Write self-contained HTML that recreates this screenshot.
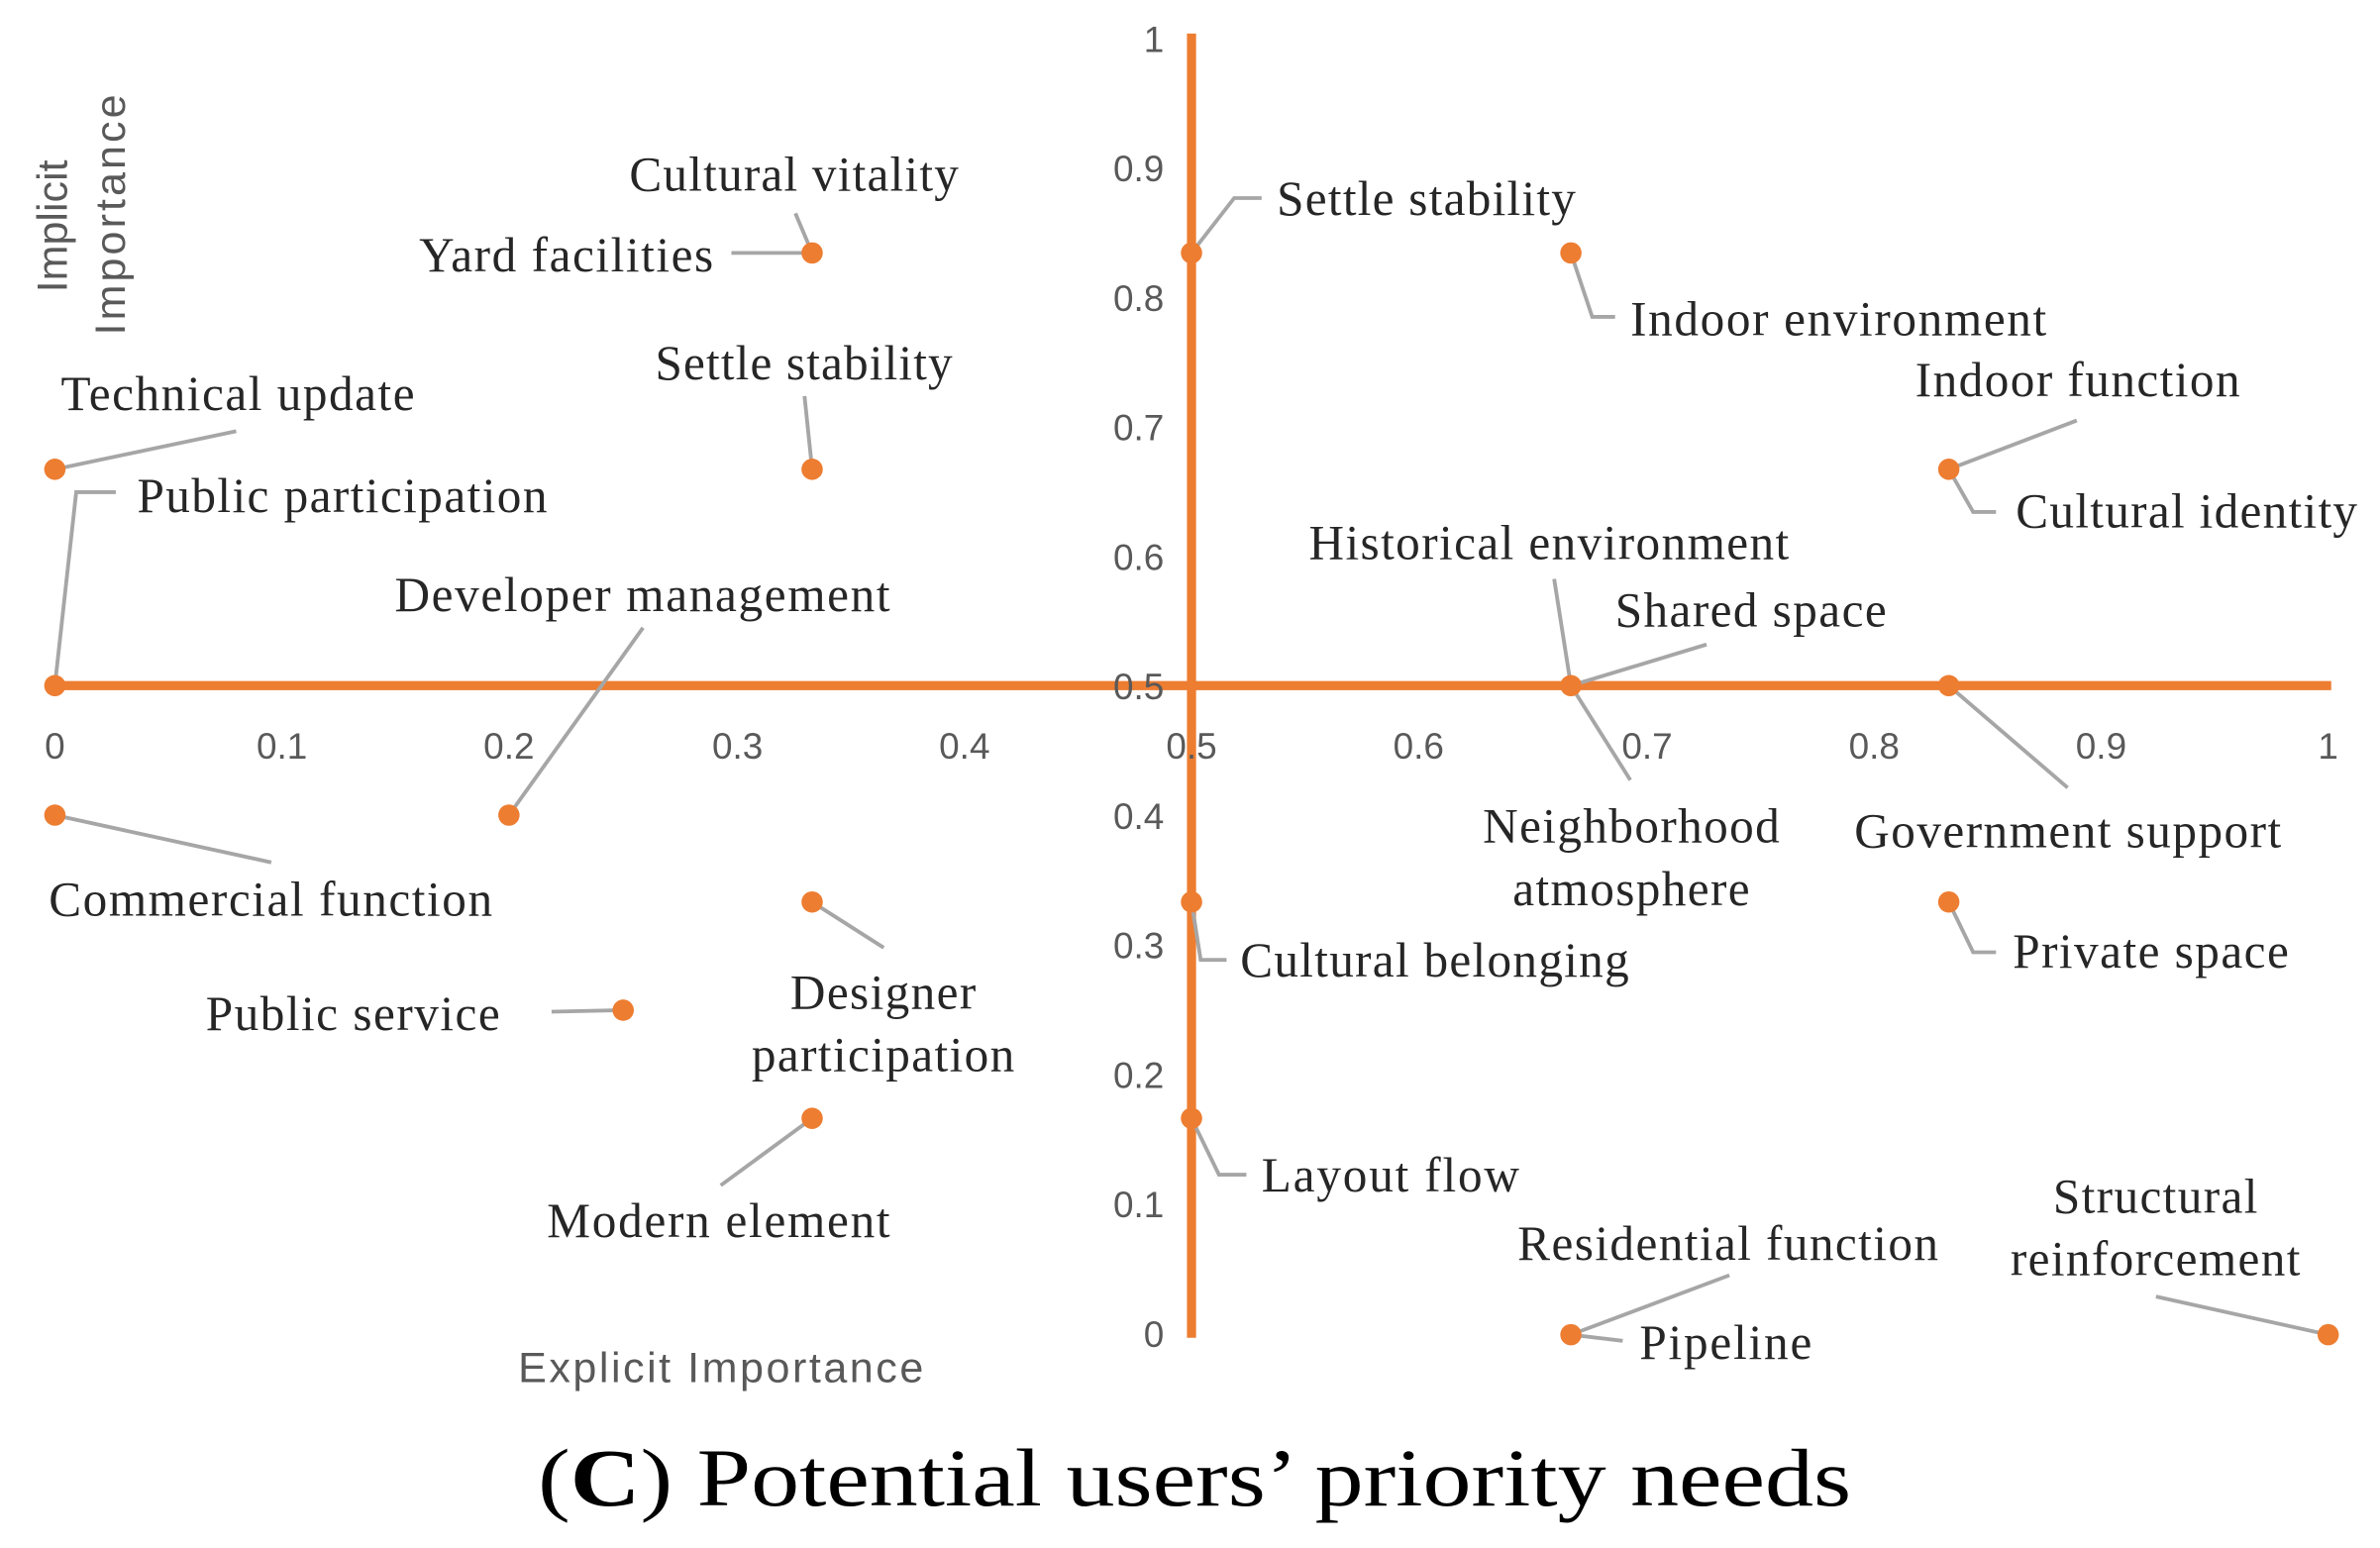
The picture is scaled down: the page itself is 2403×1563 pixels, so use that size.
<!DOCTYPE html>
<html><head><meta charset="utf-8"><style>
html,body{margin:0;padding:0;background:#fff;}
svg{display:block;}
.l{font-family:"Liberation Serif",serif;font-size:32px;letter-spacing:0.9px;fill:#262626;}
.t{font-family:"Liberation Sans",sans-serif;font-size:24px;fill:#595959;}
.g{stroke:#A6A6A6;stroke-width:2.5;fill:none;}
.p{fill:#ED7D31;}
</style></head><body>
<svg width="2403" height="1563" viewBox="0 0 1562 1016" xmlns="http://www.w3.org/2000/svg">
<rect width="1562" height="1016" fill="#fff"/>
<line x1="36" y1="450" x2="1530" y2="450" stroke="#ED7D31" stroke-width="6"/>
<line x1="782" y1="22" x2="782" y2="878" stroke="#ED7D31" stroke-width="6"/>
<g class="t" text-anchor="middle">
<text x="36" y="498">0</text><text x="185" y="498">0.1</text><text x="334" y="498">0.2</text><text x="484" y="498">0.3</text><text x="633" y="498">0.4</text><text x="782" y="498">0.5</text><text x="931" y="498">0.6</text><text x="1081" y="498">0.7</text><text x="1230" y="498">0.8</text><text x="1379" y="498">0.9</text><text x="1528" y="498">1</text>
</g>
<g class="t" text-anchor="end">
<text x="764" y="34">1</text><text x="764" y="119">0.9</text><text x="764" y="204">0.8</text><text x="764" y="289">0.7</text><text x="764" y="374">0.6</text><text x="764" y="459">0.5</text><text x="764" y="544">0.4</text><text x="764" y="629">0.3</text><text x="764" y="714">0.2</text><text x="764" y="799">0.1</text><text x="764" y="884">0</text>
</g>
<text class="t" x="340" y="907" style="font-size:28px" textLength="266">Explicit Importance</text>
<text class="t" transform="translate(44,192) rotate(-90)" style="font-size:28px">Implicit</text>
<text class="t" transform="translate(82,220) rotate(-90)" style="font-size:28px" textLength="158">Importance</text>
<g class="g">
<path d="M480,166 L533,166"/><path d="M522,140 L533,166"/>
<path d="M36,308 L155,283"/><path d="M528,260 L533,308"/>
<path d="M36,450 L50,323 L76,323"/><path d="M334,535 L422,412"/>
<path d="M36,535 L178,566"/><path d="M533,592 L580,622"/>
<path d="M362,664 L409,663"/><path d="M533,734 L473,778"/>
<path d="M782,166 L810,130 L828,130"/><path d="M1031,166 L1045,208 L1060,208"/>
<path d="M1279,308 L1363,276"/><path d="M1279,308 L1295,336 L1310,336"/>
<path d="M1031,450 L1020,380"/><path d="M1031,450 L1120,423"/><path d="M1031,450 L1070,512"/>
<path d="M1279,450 L1357,517"/><path d="M1279,592 L1295,625 L1310,625"/>
<path d="M782,592 L788,630 L805,630"/><path d="M782,734 L800,771 L818,771"/>
<path d="M1031,876 L1135,837"/><path d="M1031,876 L1065,880"/><path d="M1528,876 L1415,851"/>
</g>
<g class="p">
<circle cx="533" cy="166" r="7"/><circle cx="36" cy="308" r="7"/><circle cx="533" cy="308" r="7"/><circle cx="36" cy="450" r="7"/><circle cx="334" cy="535" r="7"/><circle cx="36" cy="535" r="7"/><circle cx="533" cy="592" r="7"/><circle cx="409" cy="663" r="7"/><circle cx="533" cy="734" r="7"/><circle cx="782" cy="166" r="7"/><circle cx="1031" cy="166" r="7"/><circle cx="1279" cy="308" r="7"/><circle cx="1031" cy="450" r="7"/><circle cx="1279" cy="450" r="7"/><circle cx="1279" cy="592" r="7"/><circle cx="782" cy="592" r="7"/><circle cx="782" cy="734" r="7"/><circle cx="1031" cy="876" r="7"/><circle cx="1528" cy="876" r="7"/>
</g>
<g class="l">
<text x="413" y="125" textLength="217">Cultural vitality</text>
<text x="275" y="178" textLength="194">Yard facilities</text>
<text x="430" y="249" textLength="196">Settle stability</text>
<text x="40" y="269" textLength="233">Technical update</text>
<text x="90" y="336" textLength="270">Public participation</text>
<text x="259" y="401" textLength="326">Developer management</text>
<text x="32" y="601" textLength="292">Commercial function</text>
<text x="135" y="676" textLength="194">Public service</text>
<text x="580" y="662" text-anchor="middle">Designer</text>
<text x="580" y="703" text-anchor="middle">participation</text>
<text x="359" y="812" textLength="226">Modern element</text>
<text x="838" y="141" textLength="197">Settle stability</text>
<text x="1070" y="220" textLength="274">Indoor environment</text>
<text x="1257" y="260" textLength="214">Indoor function</text>
<text x="1323" y="346" textLength="225">Cultural identity</text>
<text x="859" y="367" textLength="316">Historical environment</text>
<text x="1060" y="411" textLength="179">Shared space</text>
<text x="1071" y="553" text-anchor="middle">Neighborhood</text>
<text x="1071" y="594" text-anchor="middle">atmosphere</text>
<text x="1217" y="556" textLength="281">Government support</text>
<text x="1321" y="635" textLength="182">Private space</text>
<text x="814" y="641" textLength="256">Cultural belonging</text>
<text x="828" y="782" textLength="170">Layout flow</text>
<text x="996" y="827" textLength="277">Residential function</text>
<text x="1415" y="796" text-anchor="middle">Structural</text>
<text x="1415" y="837" text-anchor="middle">reinforcement</text>
<text x="1076" y="892" textLength="114">Pipeline</text>
</g>
<text x="353" y="988" textLength="862" lengthAdjust="spacingAndGlyphs" style="font-family:'Liberation Serif',serif;font-size:54px;fill:#000">(<tspan font-weight="bold">C</tspan>) Potential users’ priority needs</text>
</svg>
</body></html>
